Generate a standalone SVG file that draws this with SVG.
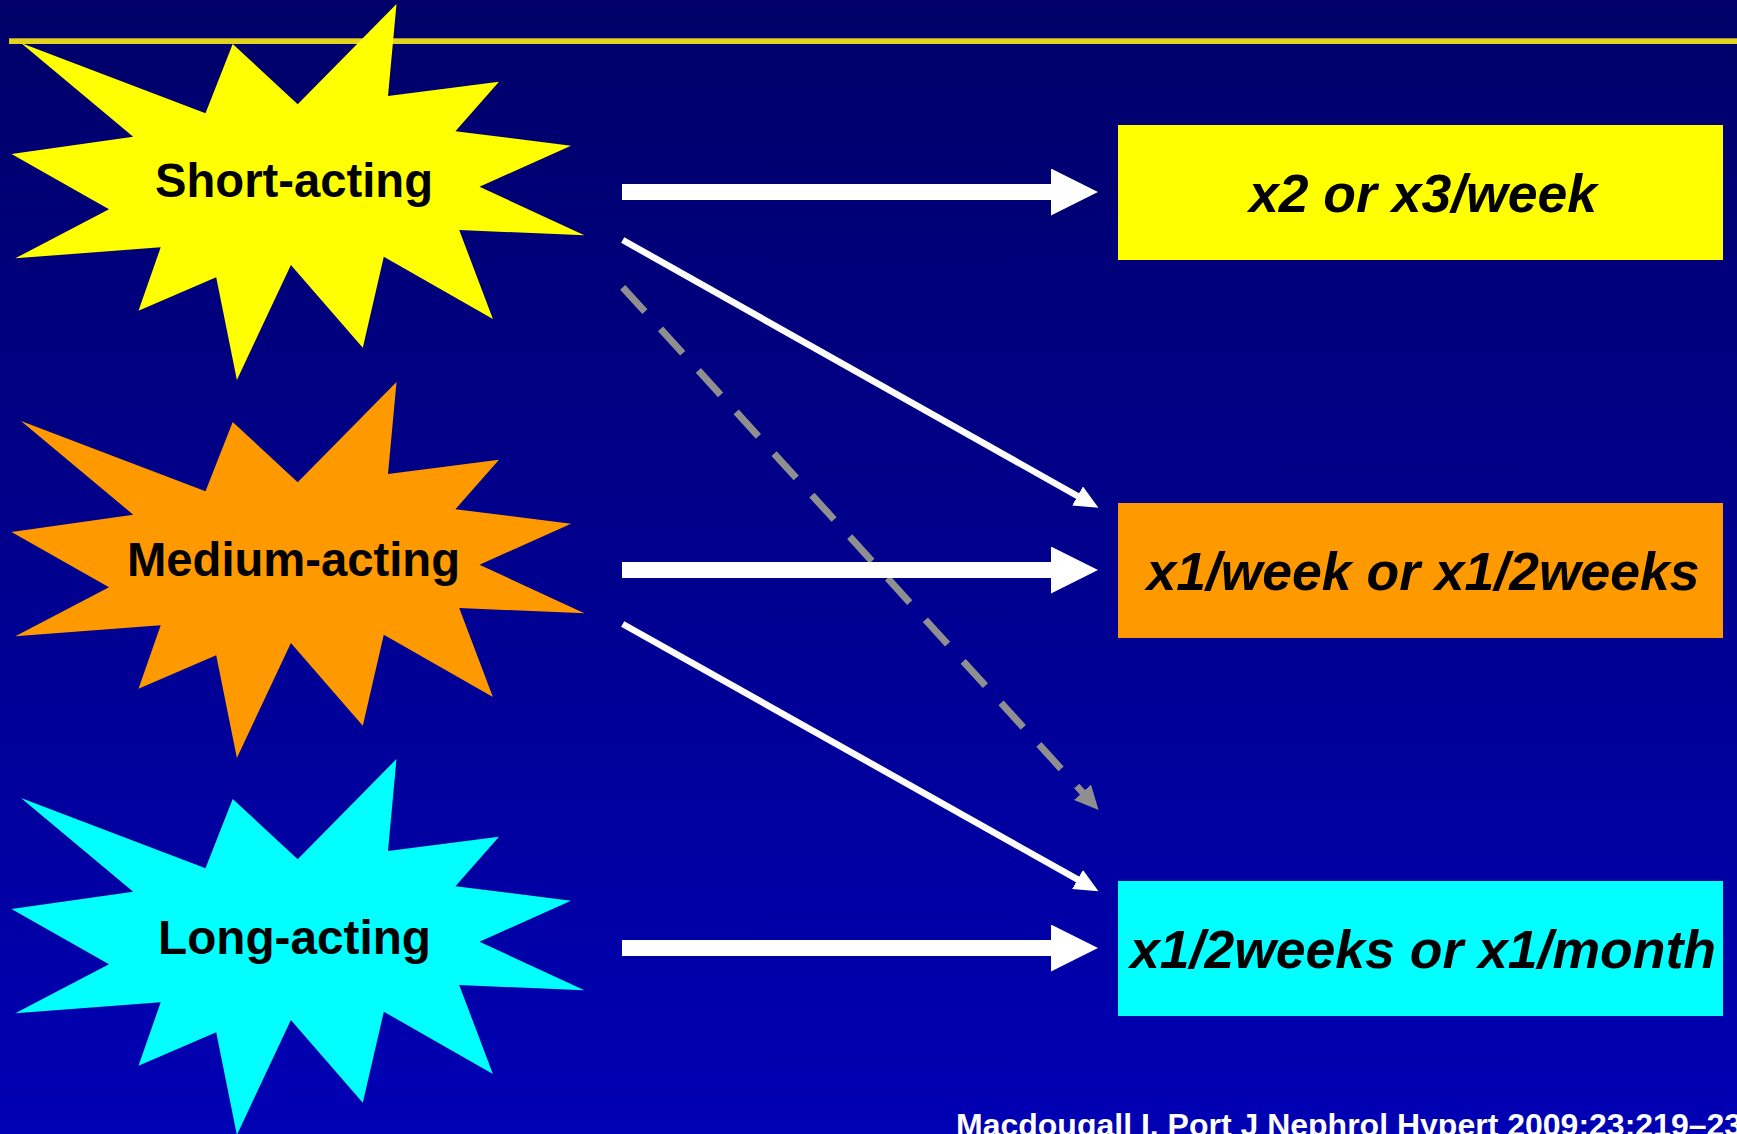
<svg xmlns="http://www.w3.org/2000/svg" xmlns:xlink="http://www.w3.org/1999/xlink" width="1737" height="1134" viewBox="0 0 1737 1134">
  <style>
    .star-label { font-family: "Liberation Sans", Arial, sans-serif; font-weight: bold; font-size: 48px; fill: #000000; text-anchor: middle; }
    .box-label { font-family: "Liberation Sans", Arial, sans-serif; font-weight: bold; font-style: italic; font-size: 53.5px; fill: #000000; text-anchor: middle; }
    .footer { font-family: "Liberation Sans", Arial, sans-serif; font-weight: bold; font-size: 32px; fill: #FFFFFF; }
    .thick { stroke: #FFFFFF; stroke-width: 16; fill: none; marker-end: url(#bigHead); }
    .thin { stroke: #FFFFFF; stroke-width: 6.5; fill: none; marker-end: url(#smallHead); }
    .dashed { stroke: #8F8F8F; stroke-width: 7; fill: none; stroke-dasharray: 33 23.2; marker-end: url(#grayHead); }
  </style>
  <defs>
    <linearGradient id="bg" x1="0" y1="0" x2="0" y2="1">
      <stop offset="0" stop-color="#000068"/>
      <stop offset="1" stop-color="#0000B4"/>
    </linearGradient>
    <polygon id="star" points="21,43 205.5,113.3 232.7,44 297.7,104.3 396.5,4 388,96 499,81.7 455.4,131.3 571,145.7 479.5,186.7 584.4,235.3 459.2,230 492.9,319 383.8,256.7 362.8,347.7 290.9,265 236.9,380 216.2,277.3 138.5,310.7 160.7,247.3 15.3,258.3 109,209.3 11.5,154 133.2,136.7"/>
    <marker id="bigHead" markerUnits="userSpaceOnUse" markerWidth="47" markerHeight="47" refX="1" refY="23.5" orient="auto" viewBox="0 0 47 47">
      <path d="M0,0 L47,23.5 L0,47 Z" fill="#FFFFFF"/>
    </marker>
    <marker id="smallHead" markerUnits="userSpaceOnUse" markerWidth="24" markerHeight="22" refX="1" refY="11" orient="auto" viewBox="0 0 24 22">
      <path d="M0,0 L24,11 L0,22 Z" fill="#FFFFFF"/>
    </marker>
    <marker id="grayHead" markerUnits="userSpaceOnUse" markerWidth="24" markerHeight="23" refX="1" refY="11.5" orient="auto" viewBox="0 0 24 23">
      <path d="M0,0 L24,11.5 L0,23 Z" fill="#8F8F8F"/>
    </marker>
  </defs>

  <rect x="0" y="0" width="1737" height="1134" fill="url(#bg)"/>
  <rect x="9" y="38.3" width="1728" height="5.7" fill="#E3D21E"/>

  <g id="node-short">
    <use xlink:href="#star" href="#star" fill="#FFFF00"/>
    <text class="star-label" x="294" y="197" textLength="278" lengthAdjust="spacingAndGlyphs">Short-acting</text>
  </g>
  <g id="node-medium">
    <use xlink:href="#star" href="#star" fill="#FF9900" transform="translate(0,378)"/>
    <text class="star-label" x="293.5" y="576" textLength="333" lengthAdjust="spacingAndGlyphs">Medium-acting</text>
  </g>
  <g id="node-long">
    <use xlink:href="#star" href="#star" fill="#00FFFF" transform="translate(0,755)"/>
    <text class="star-label" x="294.5" y="954" textLength="273" lengthAdjust="spacingAndGlyphs">Long-acting</text>
  </g>

  <g id="box-week">
    <rect x="1118" y="125" width="605" height="135" fill="#FFFF00"/>
    <text class="box-label" x="1423" y="212">x2 or x3/week</text>
  </g>
  <g id="box-weeks">
    <rect x="1118" y="503" width="605" height="135" fill="#FF9900"/>
    <text class="box-label" x="1423" y="590">x1/week or x1/2weeks</text>
  </g>
  <g id="box-month">
    <rect x="1118" y="881" width="605" height="135" fill="#00FFFF"/>
    <text class="box-label" x="1423" y="968">x1/2weeks or x1/month</text>
  </g>

  <g id="connectors">
    <line class="dashed" x1="622.7" y1="287.3" x2="1083.1" y2="793"/>
    <line class="thin" x1="622.7" y1="240" x2="1078.4" y2="496.5"/>
    <line class="thin" x1="622.7" y1="624" x2="1078.4" y2="879.9"/>
    <line class="thick" x1="622" y1="192" x2="1052" y2="192"/>
    <line class="thick" x1="622" y1="570" x2="1052" y2="570"/>
    <line class="thick" x1="622" y1="948" x2="1052" y2="948"/>
  </g>

  <text class="footer" x="956" y="1136">Macdougall I. Port J Nephrol Hypert 2009;23:219–23</text>
</svg>
